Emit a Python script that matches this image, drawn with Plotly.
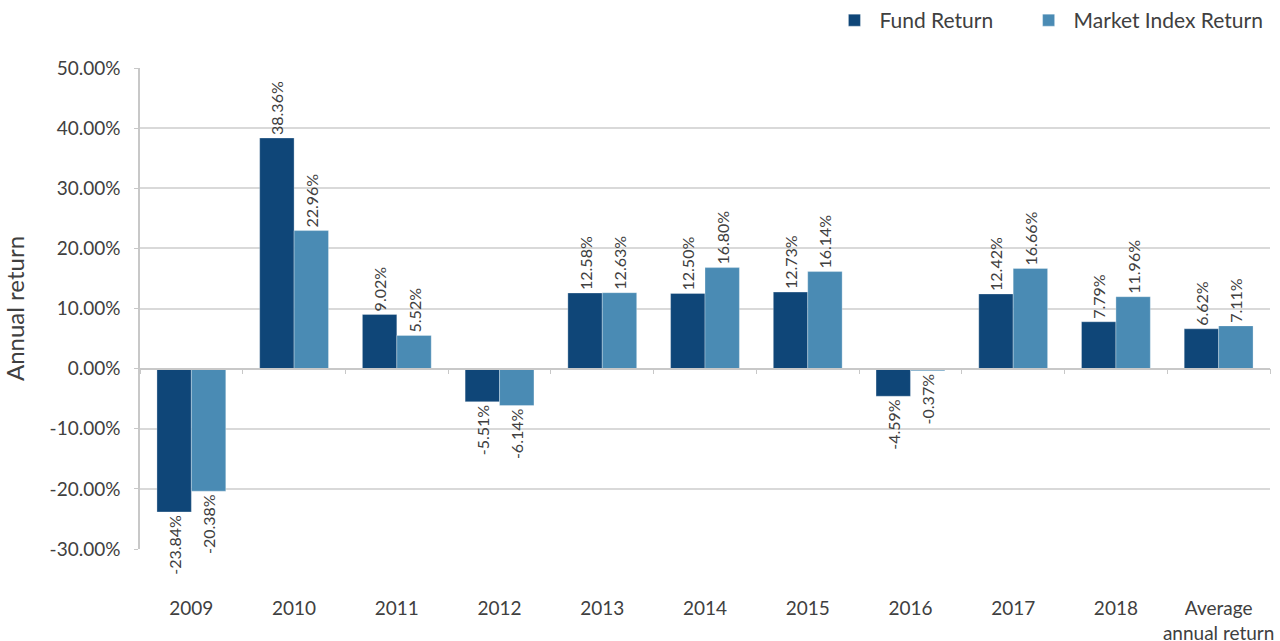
import plotly.graph_objects as go

categories = ["2009", "2010", "2011", "2012", "2013", "2014", "2015", "2016", "2017", "2018", "Average<br>annual return"]
fund_return = [-23.84, 38.36, 9.02, -5.51, 12.58, 12.50, 12.73, -4.59, 12.42, 7.79, 6.62]
market_return = [-20.38, 22.96, 5.52, -6.14, 12.63, 16.80, 16.14, -0.37, 16.66, 11.96, 7.11]
y_ticks = [-30, -20, -10, 0, 10, 20, 30, 40, 50]

FONT = "Lato, 'Open Sans', sans-serif"
TXT = "#404040"
DARK = "#0f4678"
LIGHT = "#4a8bb4"
x_range = [-0.5, len(categories) - 0.5]

fig = go.Figure()
for name, vals, col, lg in [("Fund Return", fund_return, DARK, "legend"),
                            ("Market Index Return", market_return, LIGHT, "legend2")]:
    fig.add_trace(go.Bar(
        x=categories, y=vals, name=name, legend=lg,
        marker=dict(color=col, line=dict(color="rgba(255,255,255,0.6)", width=0.5)),
        texttemplate="%{y:.2f}%", textposition="outside", textangle=-90,
        textfont=dict(size=16, color=TXT, family=FONT),
        cliponaxis=False, constraintext="none",
    ))

# zero-line axis carrying the category boundary ticks
fig.add_trace(go.Bar(x=categories, y=[0] * len(categories), xaxis="x2", yaxis="y",
                     showlegend=False, hoverinfo="skip", marker=dict(color="rgba(0,0,0,0)")))

legend_common = dict(orientation="h", xref="container", xanchor="left",
                     yref="container", y=1.0, yanchor="top",
                     font=dict(size=21, color=TXT, family=FONT), itemwidth=40,
                     bgcolor="rgba(0,0,0,0)")

fig.update_layout(
    width=1280, height=641,
    margin=dict(l=140, r=10, t=68, b=92, autoexpand=False),
    plot_bgcolor="white", paper_bgcolor="white",
    font=dict(family=FONT, color=TXT, size=18),
    barmode="group", bargap=0.33, bargroupgap=0,
    legend=dict(x=0.648, **legend_common),
    legend2=dict(x=0.7997, **legend_common),
    xaxis=dict(type="category", categoryorder="array", categoryarray=categories,
               range=x_range, autorange=False,
               showline=False, showgrid=False, ticks="", ticklabelstandoff=46,
               tickfont=dict(size=19, color=TXT)),
    xaxis2=dict(type="category", categoryorder="array", categoryarray=categories,
                range=x_range, autorange=False,
                overlaying="x", anchor="free", position=0.375, side="bottom",
                showline=True, linecolor="#c8c8c8", linewidth=1.5,
                ticks="outside", tickson="boundaries", ticklen=5, tickcolor="#c8c8c8",
                showticklabels=False, showgrid=False),
    yaxis=dict(range=[-30, 50], tickvals=y_ticks, ticktext=[f"{v:.2f}%" for v in y_ticks],
               showgrid=True, gridcolor="#d9d9d9", gridwidth=1.5,
               zeroline=False, showline=True, linecolor="#c8c8c8", linewidth=1.5,
               ticks="outside", ticklen=4, tickcolor="#c8c8c8", ticklabelstandoff=10,
               tickfont=dict(size=19, color=TXT),
               title=dict(text="Annual return", font=dict(size=24, color=TXT), standoff=26)),
)

fig.write_html("out.html", config={"displayModeBar": False},
               post_script="document.body.style.margin='0';document.body.style.overflow='hidden';")
